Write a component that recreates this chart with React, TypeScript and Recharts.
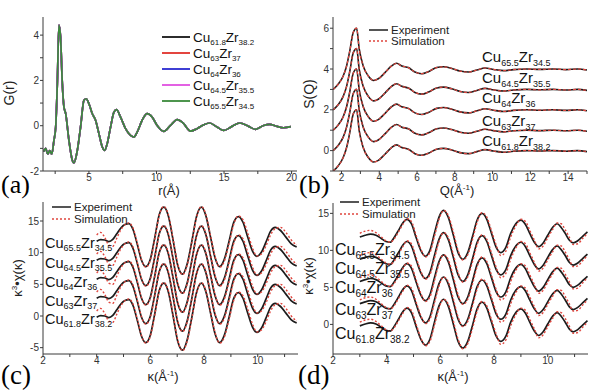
import React from 'react';
import { LineChart, Line, XAxis, YAxis } from 'recharts';

// ---------- shared ----------
const alloyCu = ['61.8', '63', '64', '64.5', '65.5'];
const alloyZr = ['38.2', '37', '36', '35.5', '34.5'];

// ---------- (a) G(r) ----------
const rA = [1.65, 1.8, 1.95, 2.1, 2.25, 2.41, 2.54, 2.66, 2.78, 2.9, 3.03, 3.15, 3.28, 3.52, 3.77, 3.89, 4.14, 4.38, 4.63, 4.8, 5.0, 5.25, 5.49, 5.74, 5.99, 6.16, 6.35, 6.6, 6.85, 7.04, 7.34, 7.71, 8.08, 8.33, 8.57, 8.94, 9.31, 9.68, 10.05, 10.54, 11.03, 11.53, 11.97, 12.51, 13.0, 13.5, 13.94, 14.48, 14.98, 15.59, 16.16, 16.82, 17.32, 17.93, 18.37, 18.92, 19.41, 19.95];
const gA = [-1.15, -1.0, -1.25, -1.1, -1.25, -0.65, -0.06, 1.86, 4.44, 3.9, 1.86, 0.83, 0.53, -0.65, -1.53, -1.64, -1.09, -0.06, 1.12, 1.19, 0.97, 0.53, 0.24, -0.35, -0.94, -1.09, -0.8, -0.06, 0.6, 0.71, 0.38, -0.13, -0.43, -0.5, -0.28, 0.24, 0.53, 0.38, 0.01, -0.25, 0.01, 0.27, 0.12, -0.24, -0.13, 0.04, 0.12, -0.06, -0.21, -0.03, 0.12, -0.03, -0.16, 0.01, 0.06, -0.03, -0.09, -0.04];
const gColors = ['#151515', '#e0302a', '#2a2ad0', '#e050e0', '#3a8a3a'];
const xTicksA = [2.5, 5, 7.5, 10, 12.5, 15, 17.5, 20];
const yTicksA = [-2, -1, 0, 1, 2, 3, 4];

// ---------- (b) S(Q) ----------
const qB = [1.56, 1.82, 2.09, 2.27, 2.44, 2.62, 2.8, 2.94, 3.15, 3.42, 3.7, 3.95, 4.3, 4.65, 4.92, 5.19, 5.54, 5.89, 6.25, 6.6, 7.04, 7.4, 7.84, 8.28, 8.73, 9.17, 9.6, 10.05, 10.58, 11.1, 11.8, 12.5, 13.2, 13.9, 14.5, 15.0];
const sB = [-1.0, -0.75, -0.34, 0.15, 0.89, 1.79, 2.0, 0.97, 0.15, -0.34, -0.56, -0.48, -0.18, 0.15, 0.28, 0.15, 0.07, -0.15, -0.23, -0.13, 0.07, 0.11, 0.03, -0.1, -0.15, -0.05, 0.05, -0.02, -0.08, -0.03, 0.0, -0.02, 0.0, -0.03, 0.0, -0.05];
const offB = [0, 1, 2, 3, 4];
const xTicksB = [2, 3, 4, 5, 6, 7, 8, 9, 10, 11, 12, 13, 14, 15];
const yTicksB = [-1, 0, 1, 2, 3, 4, 5, 6];

// ---------- (c) EXAFS ----------
const kC = [4.0, 4.15, 4.3, 4.45, 4.6, 4.75, 4.9, 5.05, 5.2, 5.36, 5.52, 5.67, 5.83, 6.0, 6.17, 6.33, 6.5, 6.67, 6.85, 7.02, 7.2, 7.37, 7.55, 7.72, 7.9, 8.07, 8.24, 8.41, 8.58, 8.75, 8.93, 9.1, 9.28, 9.45, 9.62, 9.8, 9.97, 10.14, 10.31, 10.48, 10.65, 10.85, 11.05, 11.25, 11.45];
const expC = [-0.2, 0.05, 0.0, -0.25, 0.1, 1.0, 1.9, 2.45, 2.6, 1.6, -0.8, -3.2, -4.2, -3.0, 0.5, 4.0, 5.2, 3.8, -0.1, -4.0, -5.4, -3.8, -0.1, 3.7, 5.2, 3.8, 0.5, -2.8, -4.2, -3.1, -0.25, 2.7, 3.7, 2.8, 0.55, -1.7, -2.6, -1.9, -0.3, 1.4, 2.0, 1.5, 0.45, -0.6, -1.1];
const simC = [0.8, 1.2, 0.4, -0.8, -1.0, 0.3, 1.6, 2.4, 2.7, 1.8, -0.6, -3.1, -4.3, -3.2, 0.3, 3.9, 5.3, 4.0, 0.1, -3.8, -5.5, -4.0, -0.3, 3.6, 5.3, 4.0, 0.7, -2.6, -4.3, -3.4, -0.6, 2.4, 3.8, 3.2, 1.2, -1.2, -2.5, -2.2, -0.9, 0.8, 1.8, 2.0, 1.2, 0.0, -0.8];
const offC = [0, 3, 6, 9, 12];
const xTicksCD = [2, 3, 4, 5, 6, 7, 8, 9, 10, 11];
const yTicksC = [-5, 0, 5, 10, 15];

// ---------- (d) EXAFS ----------
const kD = [3.0, 3.2, 3.4, 3.6, 3.8, 3.97, 4.13, 4.29, 4.44, 4.6, 4.75, 4.92, 5.1, 5.27, 5.44, 5.61, 5.78, 5.95, 6.12, 6.3, 6.48, 6.66, 6.84, 7.02, 7.2, 7.37, 7.55, 7.73, 7.9, 8.08, 8.25, 8.44, 8.62, 8.81, 9.0, 9.17, 9.33, 9.5, 9.66, 9.83, 10.0, 10.18, 10.35, 10.5, 10.65, 10.8, 10.95, 11.12, 11.3, 11.48];
const expD = [-0.2, 0.05, 0.2, 0.05, -0.4, -0.8, -0.9, -0.2, 0.7, 1.7, 2.2, 1.6, -0.3, -2.0, -2.8, -2.0, 0.3, 2.5, 3.4, 2.4, 0.1, -2.3, -3.2, -2.3, -0.1, 2.1, 3.0, 2.2, 0.35, -1.6, -2.3, -1.6, 0.3, 1.6, 2.1, 1.5, 0.3, -0.9, -1.5, -1.0, 0.05, 1.1, 1.6, 1.1, 0.3, -0.6, -1.0, -0.7, -0.1, 0.5];
const simD = [0.3, 0.6, 0.7, 0.4, -0.2, -0.7, -0.9, -0.4, 0.5, 1.5, 2.3, 1.9, 0.0, -1.8, -2.9, -2.3, -0.1, 2.2, 3.4, 2.7, 0.5, -2.0, -3.3, -2.6, -0.5, 1.8, 3.1, 2.5, 0.7, -1.3, -2.7, -2.1, -0.2, 1.3, 2.2, 1.9, 0.7, -0.6, -1.8, -1.4, -0.3, 0.8, 1.7, 1.6, 0.8, -0.2, -1.2, -1.1, -0.4, 0.3];
const offD = [0, 3, 6, 9, 12];
const yTicksD = [0, 5, 10, 15];

// ---------- build tables ----------
const dataA = rA.map((r, i) => {
  const row: any = { x: r };
  gColors.forEach((_, j) => { row['g' + j] = gA[i]; });
  return row;
});
const dataB = qB.map((q, i) => {
  const row: any = { x: q };
  offB.forEach((o, j) => { row['e' + j] = sB[i] + o; row['s' + j] = sB[i] + o; });
  return row;
});
const dataC = kC.map((k, i) => {
  const row: any = { x: k };
  offC.forEach((o, j) => { row['e' + j] = expC[i] + o; row['s' + j] = simC[i] + o; });
  return row;
});
const dataD = kD.map((k, i) => {
  const row: any = { x: k };
  offD.forEach((o, j) => { row['e' + j] = expD[i] + o; row['s' + j] = simD[i] + o; });
  return row;
});

const FONT = '"Liberation Sans", Arial, Helvetica, sans-serif';
const SERIF = '"Liberation Serif", "Times New Roman", serif';
const AX = '#3a3a3a';
const tickStyle = { fontSize: 10, fill: '#333', fontFamily: FONT };
const EXP = '#1c1c1c';
const SIM = '#e0463e';

const evenFmt = (v: number) => (Math.abs(v % 2) < 1e-9 ? String(v) : '');

function ExpSimLines(n: number, simDash: string, expWidth: number, simWidth: number) {
  const out: any[] = [];
  for (let j = 0; j < n; j++) {
    out.push(
      <Line key={'e' + j} dataKey={'e' + j} type="monotone" stroke={EXP} strokeWidth={expWidth} dot={false} isAnimationActive={false} />
    );
    out.push(
      <Line key={'s' + j} dataKey={'s' + j} type="monotone" stroke={SIM} strokeWidth={simWidth} strokeDasharray={simDash} dot={false} isAnimationActive={false} />
    );
  }
  return out;
}

function AlloyText({ x, y, cu, zr, size }: { x: number; y: number; cu: string; zr: string; size: number }) {
  const sub = Math.round(size * 0.6);
  const d = Math.round(size * 0.24);
  return (
    <text x={x} y={y} fontSize={size} fontFamily={FONT} fill="#111">
      Cu
      <tspan fontSize={sub} dy={d}>{cu}</tspan>
      <tspan fontSize={size} dy={-d}>Zr</tspan>
      <tspan fontSize={sub} dy={d}>{zr}</tspan>
    </text>
  );
}

function ExpSimLegend({ x, y1, y2 }: { x: number; y1: number; y2: number }) {
  return (
    <g>
      <line x1={x} x2={x + 19} y1={y1} y2={y1} stroke={EXP} strokeWidth={1.5} />
      <line x1={x} x2={x + 19} y1={y2} y2={y2} stroke={SIM} strokeWidth={1.4} strokeDasharray="2 2" />
      <text x={x + 22} y={y1 + 4} fontSize={11.5} fontFamily={FONT} fill="#222">Experiment</text>
      <text x={x + 22} y={y2 + 4} fontSize={11.5} fontFamily={FONT} fill="#222">Simulation</text>
    </g>
  );
}

export default function App() {
  return (
    <div style={{ position: 'absolute', left: 0, top: 0, width: 600, height: 391, background: '#fff', overflow: 'hidden' }}>
      {/* (a) */}
      <div style={{ position: 'absolute', left: 0, top: 0 }}>
        <LineChart width={300} height={195} data={dataA} margin={{ top: 17, right: 3, bottom: 0, left: 0 }}>
          <XAxis dataKey="x" type="number" domain={[1.6, 20.4]} ticks={xTicksA} interval={0}
            tickFormatter={(v: number) => (v % 5 === 0 ? String(v) : '')} height={24} allowDataOverflow
            stroke={AX} tick={tickStyle} tickSize={3} tickMargin={0} />
          <YAxis type="number" domain={[-2, 4.8]} ticks={yTicksA} interval={0} tickFormatter={evenFmt} width={43} allowDataOverflow
            stroke={AX} tick={tickStyle} tickSize={3} tickMargin={1} />
          {gColors.map((c, j) => (
            <Line key={j} dataKey={'g' + j} type="monotone" stroke={c} strokeWidth={1.7} dot={false} isAnimationActive={false} />
          ))}
        </LineChart>
      </div>
      {/* (b) */}
      <div style={{ position: 'absolute', left: 300, top: 0 }}>
        <LineChart width={300} height={195} data={dataB} margin={{ top: 17, right: 13, bottom: 0, left: 0 }}>
          <XAxis dataKey="x" type="number" domain={[1.55, 15]} ticks={xTicksB} interval={0} tickFormatter={evenFmt}
            height={24} allowDataOverflow stroke={AX} tick={tickStyle} tickSize={3} tickMargin={0} />
          <YAxis type="number" domain={[-1, 6.55]} ticks={yTicksB} interval={0} tickFormatter={evenFmt} width={33} allowDataOverflow
            stroke={AX} tick={tickStyle} tickSize={3} tickMargin={1} />
          {ExpSimLines(5, '3 2', 1.6, 1.2)}
        </LineChart>
      </div>
      {/* (c) */}
      <div style={{ position: 'absolute', left: 0, top: 190 }}>
        <LineChart width={300} height={201} data={dataC} margin={{ top: 12, right: 2, bottom: 0, left: 0 }}>
          <XAxis dataKey="x" type="number" domain={[2, 11.5]} ticks={xTicksCD} interval={0} tickFormatter={evenFmt}
            height={37} allowDataOverflow stroke={AX} tick={tickStyle} tickSize={3} tickMargin={0} />
          <YAxis type="number" domain={[-6, 18]} ticks={yTicksC} interval={0} width={43} allowDataOverflow
            stroke={AX} tick={tickStyle} tickSize={3} tickMargin={1} />
          {ExpSimLines(5, '2 2', 1.7, 1.4)}
        </LineChart>
      </div>
      {/* (d) */}
      <div style={{ position: 'absolute', left: 300, top: 190 }}>
        <LineChart width={300} height={201} data={dataD} margin={{ top: 13, right: 12, bottom: 0, left: 0 }}>
          <XAxis dataKey="x" type="number" domain={[2, 11.5]} ticks={xTicksCD} interval={0} tickFormatter={evenFmt}
            height={37} allowDataOverflow stroke={AX} tick={tickStyle} tickSize={3} tickMargin={0} />
          <YAxis type="number" domain={[-4, 16.4]} ticks={yTicksD} interval={0} width={33} allowDataOverflow
            stroke={AX} tick={tickStyle} tickSize={3} tickMargin={1} />
          {ExpSimLines(5, '2 2', 1.7, 1.4)}
        </LineChart>
      </div>

      {/* text overlay */}
      <svg width={600} height={391} style={{ position: 'absolute', left: 0, top: 0, pointerEvents: 'none' }}>
        {/* panel letters */}
        <text x={1} y={193} fontSize={26} fontFamily={SERIF} fill="#000">(a)</text>
        <text x={299} y={193} fontSize={26} fontFamily={SERIF} fill="#000">(b)</text>
        <text x={1} y={384} fontSize={27} fontFamily={SERIF} fill="#000">(c)</text>
        <text x={298} y={384} fontSize={27} fontFamily={SERIF} fill="#000">(d)</text>

        {/* axis titles */}
        <text x={169} y={195} fontSize={13} fontFamily={FONT} textAnchor="middle" fill="#222">r(Å)</text>
        <text transform="translate(14,93) rotate(-90)" fontSize={14} fontFamily={FONT} textAnchor="middle" fill="#222">G(r)</text>
        <text x={457} y={195} fontSize={13} fontFamily={FONT} textAnchor="middle" fill="#222">
          Q(Å<tspan fontSize={8} dy={-5}>-1</tspan><tspan dy={5}>)</tspan>
        </text>
        <text transform="translate(314,94) rotate(-90)" fontSize={14} fontFamily={FONT} textAnchor="middle" fill="#222">S(Q)</text>
        <text x={163} y={381} fontSize={13} fontFamily={FONT} textAnchor="middle" fill="#222">
          κ(Å<tspan fontSize={8} dy={-5}>-1</tspan><tspan dy={5}>)</tspan>
        </text>
        <text x={453} y={381} fontSize={13} fontFamily={FONT} textAnchor="middle" fill="#222">
          κ(Å<tspan fontSize={8} dy={-5}>-1</tspan><tspan dy={5}>)</tspan>
        </text>
        <text transform="translate(22,278) rotate(-90)" fontSize={13} fontFamily={FONT} textAnchor="middle" fill="#222">
          κ<tspan fontSize={8} dy={-5}>3</tspan><tspan dy={5}>•χ(κ)</tspan>
        </text>
        <text transform="translate(313,276) rotate(-90)" fontSize={13} fontFamily={FONT} textAnchor="middle" fill="#222">
          κ<tspan fontSize={8} dy={-5}>3</tspan><tspan dy={5}>•χ(κ)</tspan>
        </text>

        {/* (a) legend */}
        {gColors.map((c, j) => (
          <g key={j}>
            <line x1={162} x2={190} y1={37 + j * 16} y2={37 + j * 16} stroke={c} strokeWidth={1.8} />
            <AlloyText x={193} y={41.5 + j * 16} cu={alloyCu[j]} zr={alloyZr[j]} size={13.5} />
          </g>
        ))}

        {/* (b) */}
        <ExpSimLegend x={369} y1={30} y2={41} />
        {[146, 126, 103, 83, 62].map((y, j) => (
          <AlloyText key={j} x={482} y={y} cu={alloyCu[j]} zr={alloyZr[j]} size={15} />
        ))}

        {/* (c) */}
        <ExpSimLegend x={52} y1={207} y2={219} />
        {[324, 306, 287, 268, 248].map((y, j) => (
          <AlloyText key={j} x={45} y={y} cu={alloyCu[j]} zr={alloyZr[j]} size={14.5} />
        ))}

        {/* (d) */}
        <ExpSimLegend x={340} y1={202} y2={214} />
        {[339, 315, 293, 274, 255].map((y, j) => (
          <AlloyText key={j} x={335} y={y} cu={alloyCu[j]} zr={alloyZr[j]} size={16} />
        ))}
      </svg>
    </div>
  );
}
